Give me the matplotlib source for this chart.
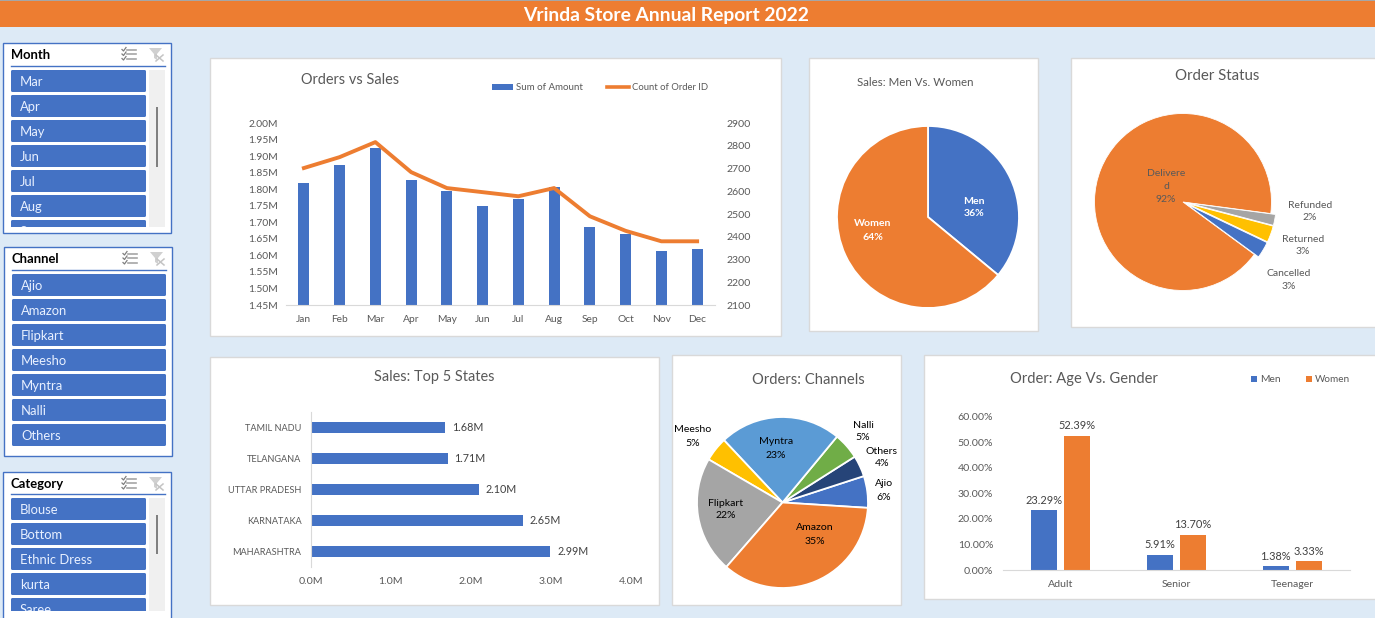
import matplotlib

matplotlib.use("Agg")
import matplotlib.pyplot as plt
from matplotlib.patches import FancyBboxPatch, Rectangle, Polygon

W, H = 1375, 618
plt.rcParams["font.family"] = ["Lato", "DejaVu Sans"]

BLUE, ORANGE, GREY, GOLD = "#4472C4", "#ED7D31", "#A5A5A5", "#FFC000"
LTBLUE, GREEN, NAVY = "#5B9BD5", "#70AD47", "#264478"
TXT = "#595959"
BG = "#DDEAF6"

months = ["Jan", "Feb", "Mar", "Apr", "May", "Jun", "Jul", "Aug", "Sep", "Oct", "Nov", "Dec"]
amount = [1.819, 1.874, 1.925, 1.828, 1.795, 1.750, 1.771, 1.807, 1.686, 1.665, 1.613, 1.620]
orders = [2702, 2750, 2816, 2684, 2614, 2596, 2578, 2614, 2490, 2426, 2380, 2380]
amount_ticks = [1.45, 1.50, 1.55, 1.60, 1.65, 1.70, 1.75, 1.80, 1.85, 1.90, 1.95, 2.00]
order_ticks = [2100, 2200, 2300, 2400, 2500, 2600, 2700, 2800, 2900]

states = ["MAHARASHTRA", "KARNATAKA", "UTTAR PRADESH", "TELANGANA", "TAMIL NADU"]
state_sales = [2.99, 2.65, 2.10, 1.71, 1.68]

ages = ["Adult", "Senior", "Teenager"]
men_pct = [23.29, 5.91, 1.38]
women_pct = [52.39, 13.70, 3.33]

gender_share = [36, 64]
status_names = ["Delivered", "Cancelled", "Returned", "Refunded"]
status_share = [92, 3, 3, 2]
channel_names = ["Ajio", "Others", "Nalli", "Myntra", "Meesho", "Flipkart", "Amazon"]
channel_share = [6, 4, 5, 23, 4.6, 22, 35.4]

month_items = ["Mar", "Apr", "May", "Jun", "Jul", "Aug", "Sep"]
channel_items = ["Ajio", "Amazon", "Flipkart", "Meesho", "Myntra", "Nalli", "Others"]
category_items = ["Blouse", "Bottom", "Ethnic Dress", "kurta", "Saree"]


def px(size):
    return size * 0.72


def axes_px(x0, y0, x1, y1):
    return fig.add_axes([x0 / W, 1 - y1 / H, (x1 - x0) / W, (y1 - y0) / H], facecolor="none")


def clean(ax, keep):
    for s in ax.spines:
        ax.spines[s].set_visible(s in keep)
        ax.spines[s].set_color("#D9D9D9")


def label(x, y, s, size=10.5, color=TXT, ha="center", **kw):
    return top.text(x, y + 1, s, fontsize=px(size), color=color, ha=ha, va="center", **kw)


def panel(x0, y0, x1, y1):
    bg.add_patch(Rectangle((x0 - 0.5, y0 - 0.5), x1 - x0 + 1, y1 - y0, fc="white", ec="#D9D9D9", lw=1))


def slicer(x0, y0, x1, y1, title, items, first, btn_right, clip_y=None, thumb=None):
    bg.add_patch(Rectangle((x0 - 0.5, y0 - 0.5), x1 - x0, y1 - y0, fc="white", ec=BLUE, lw=1))
    tx = x0 + 7
    bg.text(tx, y0 + 12, title, fontsize=px(13), fontweight="bold", color="black", va="center")
    bg.plot([tx, x1 - 7], [first - 4, first - 4], color=BLUE, lw=1)
    # checklist icon
    ix = x0 + 118
    for k in range(3):
        yy = y0 + 6.5 + k * 4.5
        bg.plot([ix + 5, ix + 14], [yy, yy], color="#A6A6A6", lw=1.2)
        bg.plot([ix, ix + 1.5, ix + 4], [yy, yy + 1.5, yy - 2], color="#7F7F7F", lw=0.9)
    # filter icon, greyed out
    fx = x0 + 145
    bg.add_patch(Polygon([(fx, y0 + 5), (fx + 13, y0 + 5), (fx + 8, y0 + 11), (fx + 8, y0 + 17),
                          (fx + 5, y0 + 15), (fx + 5, y0 + 11)], fc="#D0D0D0", ec="none"))
    bg.plot([fx + 7, fx + 14], [y0 + 12, y0 + 18], color="#C4C4C4", lw=1.1)
    bg.plot([fx + 7, fx + 14], [y0 + 18, y0 + 12], color="#C4C4C4", lw=1.1)
    clip = Rectangle((tx, first), btn_right - tx + 1, (clip_y or H) - first, transform=bg.transData)
    if thumb:
        bg.add_patch(Rectangle((x0 + 145, first), 16, clip_y - first, fc="#F0F0F0", ec="none"))
        bg.add_patch(Rectangle((x0 + 152, thumb[0]), 2, thumb[1] - thumb[0], fc="#808080", ec="none"))
    for k, name in enumerate(items):
        yy = first + 25 * k
        p = FancyBboxPatch((tx + 1.5, yy + 1.5), btn_right - tx - 3, 19, boxstyle="round,pad=1.5",
                           fc=BLUE, ec="none")
        bg.add_patch(p)
        p.set_clip_path(clip)
        t = bg.text(tx + 9, yy + 12, name, fontsize=px(13), color="#E8F0FF", va="center", clip_on=True)
        t.set_clip_path(clip)


fig = plt.figure(figsize=(W / 100, H / 100), dpi=100, facecolor=BG)
bg = fig.add_axes([0, 0, 1, 1])
bg.set_xlim(0, W)
bg.set_ylim(H, 0)
bg.axis("off")
# text that has to sit above the pies
top = fig.add_axes([0, 0, 1, 1], facecolor="none", zorder=10)
top.set_xlim(0, W)
top.set_ylim(H, 0)
top.axis("off")

# banner
bg.add_patch(Rectangle((0, 0), W, 27, fc=ORANGE, ec="none"))
bg.add_patch(Rectangle((0, 0), W, 1, fc="#A6A6A6", ec="none"))
label(666, 14.5, "Vrinda Store Annual Report 2022", size=19.3, color="white", fontweight="bold")

# slicers
slicer(4, 43, 172, 233, "Month", month_items, 70, 146, clip_y=227, thumb=(107, 167))
slicer(5, 247, 173, 456, "Channel", channel_items, 274, 166)
slicer(4, 472, 172, 630, "Category", category_items, 498, 146, clip_y=611, thumb=(515, 554))

panel(211, 58, 781, 336)
panel(810, 58, 1038, 331)
panel(1072, 58, 1380, 327)
panel(211, 357, 659, 605)
panel(673, 355, 901, 605)
panel(925, 355, 1380, 599)

# Orders vs Sales
ax = axes_px(286, 123, 715, 305)
ax.bar(range(12), amount, width=0.31, color=BLUE)
ax.set_xlim(-0.5, 11.5)
ax.set_ylim(1.45, 2.0)
ax.set_xticks(range(12), months)
ax.set_yticks(amount_ticks, [f"{v:.2f}M" for v in amount_ticks])
ax.tick_params(length=0, labelsize=px(10.2), labelcolor=TXT)
ax.tick_params(axis="x", pad=7)
ax.tick_params(axis="y", pad=6)
clean(ax, ["bottom"])
ax2 = ax.twinx()
ax2.set_facecolor("none")
ax2.plot(range(12), orders, color=ORANGE, lw=2.8, solid_joinstyle="round")
ax2.set_ylim(2100, 2900)
ax2.set_yticks(order_ticks)
ax2.tick_params(length=0, labelsize=px(10.5), labelcolor=TXT, pad=8)
clean(ax2, [])
label(350, 78.5, "Orders vs Sales", size=14.5)
bg.add_patch(Rectangle((492, 84), 21, 6, fc=BLUE, ec="none"))
label(516, 86, "Sum of Amount", size=9.8, ha="left")
bg.plot([607, 629], [87, 87], color=ORANGE, lw=2.6)
label(632, 86, "Count of Order ID", size=9.5, ha="left")


def pie_axes(cx, cy, r):
    a = axes_px(cx - 1.2 * r, cy - 1.2 * r, cx + 1.2 * r, cy + 1.2 * r)
    return a


# Men vs Women
ax = pie_axes(928, 217, 91)
ax.pie(gender_share, colors=[BLUE, ORANGE], startangle=90, counterclock=False,
       wedgeprops=dict(ec="white", lw=1.3))
ax.set_xlim(-1.2, 1.2)
ax.set_ylim(-1.2, 1.2)
label(915, 82, "Sales: Men Vs. Women", size=11.5)
label(974, 200, "Men", color="white", fontweight="bold")
label(974, 213, "36%", color="white", fontweight="bold")
label(873, 223, "Women", color="white", fontweight="bold")
label(873, 236, "64%", color="white", fontweight="bold")

# Order status
ax = pie_axes(1183, 202, 88.5)
ax.pie(status_share, colors=[ORANGE, BLUE, GOLD, GREY], startangle=-7.5, explode=[0, 0.055, 0.055, 0.055],
       wedgeprops=dict(ec="white", lw=0.6))
ax.set_xlim(-1.2, 1.2)
ax.set_ylim(-1.2, 1.2)
label(1217, 74.5, "Order Status", size=15)
for x, y, s in [(1166, 172.5, "Delivere"), (1166, 185.5, "d"), (1166, 198.5, "92%"),
                (1310, 204, "Refunded"), (1310, 217, "2%"),
                (1303, 238, "Returned"), (1303, 251, "3%"),
                (1289, 272.5, "Cancelled"), (1289, 285.5, "3%")]:
    label(x, y, s, size=10.4)

# Top 5 states
ax = axes_px(310.5, 412, 631, 567)
ax.barh(range(5), state_sales, height=0.355, color=BLUE)
ax.set_xlim(0, 4)
ax.set_ylim(-0.5, 4.5)
ax.set_xticks(range(5), [f"{v:.1f}M" for v in range(5)])
ax.set_yticks(range(5), states)
ax.tick_params(length=0, labelsize=px(10.5), labelcolor=TXT)
ax.tick_params(axis="x", pad=7)
ax.tick_params(axis="y", pad=6.5, labelsize=px(9.2))
clean(ax, ["left"])
for i, v in enumerate(state_sales):
    ax.annotate(f"{v:.2f}M", (v, i), xytext=(5, 0), textcoords="offset points", va="center",
                fontsize=px(10.8), color="#404040")
label(434, 375.5, "Sales: Top 5 States", size=14.5)

# Channels
ax = pie_axes(782.5, 502.5, 85.5)
ax.pie(channel_share, colors=[BLUE, NAVY, GREEN, LTBLUE, GOLD, GREY, ORANGE], startangle=-3.6,
       wedgeprops=dict(ec="white", lw=1.3))
ax.set_xlim(-1.2, 1.2)
ax.set_ylim(-1.2, 1.2)
label(808, 378.5, "Orders: Channels", size=14.8)
for x, y, s in [(776, 441, "Myntra"), (776, 454, "23%"), (726, 502, "Flipkart"), (726, 515, "22%"),
                (815, 527, "Amazon"), (815, 540, "35%"), (693, 429, "Meesho"), (693, 442, "5%"),
                (863, 424, "Nalli"), (863, 437, "5%"), (882, 450, "Others"), (882, 463, "4%"),
                (884, 483, "Ajio"), (884, 496, "6%")]:
    label(x, y, s, color="black", size=10.5)

# Age vs gender
ax = axes_px(1003, 416.7, 1350, 570)
xs = range(3)
ax.bar([i - 0.142 for i in xs], men_pct, width=0.224, color=BLUE)
ax.bar([i + 0.142 for i in xs], women_pct, width=0.224, color=ORANGE)
ax.set_xlim(-0.5, 2.5)
ax.set_ylim(0, 60)
ax.set_xticks(list(xs), ages)
ax.set_yticks(range(0, 61, 10), [f"{v:.2f}%" for v in range(0, 61, 10)])
ax.tick_params(length=0, labelsize=px(10.5), labelcolor=TXT)
ax.tick_params(axis="x", pad=7)
ax.tick_params(axis="y", pad=7)
clean(ax, ["bottom"])
for i in xs:
    ax.annotate(f"{men_pct[i]:.2f}%", (i - 0.142, men_pct[i]), xytext=(0, 5), textcoords="offset points",
                ha="center", fontsize=px(11), color="#404040", annotation_clip=False)
    ax.annotate(f"{women_pct[i]:.2f}%", (i + 0.142, women_pct[i]), xytext=(0, 5), textcoords="offset points",
                ha="center", fontsize=px(11), color="#404040", annotation_clip=False)
label(1084, 378.5, "Order: Age Vs. Gender", size=14.8)
bg.add_patch(Rectangle((1251.5, 376), 6, 6, fc=BLUE, ec="none"))
label(1260, 378, "Men", size=10.2, ha="left")
bg.add_patch(Rectangle((1306, 376), 6, 6, fc=ORANGE, ec="none"))
label(1314.5, 378, "Women", size=10, ha="left")

fig.savefig("out.png", dpi=100, facecolor=BG)
